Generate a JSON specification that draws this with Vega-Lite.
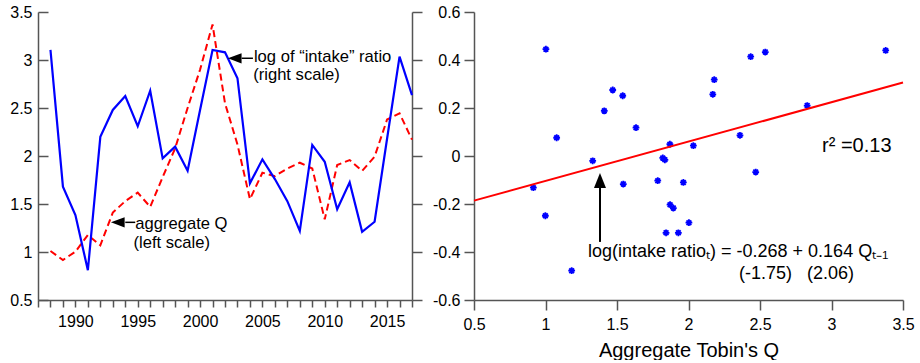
{
  "$schema": "https://vega.github.io/schema/vega-lite/v6.json",
  "padding": {"left": 9, "top": 4, "right": 5, "bottom": 0},
  "spacing": 62,
  "bounds": "flush",
  "config": {
    "view": {"stroke": null},
    "font": "Liberation Sans",
    "axis": {
      "domainColor": "#555555", "tickColor": "#555555", "domainWidth": 1.5, "tickWidth": 1.5,
      "labelColor": "#000000", "labelFont": "Liberation Sans", "labelFontSize": 16,
      "titleFont": "Liberation Sans", "titleFontWeight": "normal", "titleColor": "#000000",
      "grid": false, "labelFlush": false, "labelOverlap": false
    }
  },
  "datasets": {
    "ts": [
      {"year": 1988, "q": 1.01, "r": 0.442},
      {"year": 1989, "q": 0.917, "r": -0.128},
      {"year": 1990, "q": 1.003, "r": -0.246},
      {"year": 1991, "q": 1.177, "r": -0.476},
      {"year": 1992, "q": 1.07, "r": 0.08},
      {"year": 1993, "q": 1.41, "r": 0.192},
      {"year": 1994, "q": 1.53, "r": 0.25},
      {"year": 1995, "q": 1.618, "r": 0.124},
      {"year": 1996, "q": 1.47, "r": 0.272},
      {"year": 1997, "q": 1.78, "r": -0.01},
      {"year": 1998, "q": 2.08, "r": 0.039},
      {"year": 1999, "q": 2.5, "r": -0.061},
      {"year": 2000, "q": 2.9, "r": 0.192},
      {"year": 2001, "q": 3.37, "r": 0.442},
      {"year": 2002, "q": 2.55, "r": 0.432},
      {"year": 2003, "q": 2.12, "r": 0.324},
      {"year": 2004, "q": 1.55, "r": -0.114},
      {"year": 2005, "q": 1.826, "r": -0.014},
      {"year": 2006, "q": 1.79, "r": -0.096},
      {"year": 2007, "q": 1.87, "r": -0.188},
      {"year": 2008, "q": 1.93, "r": -0.312},
      {"year": 2009, "q": 1.87, "r": 0.046},
      {"year": 2010, "q": 1.34, "r": -0.024},
      {"year": 2011, "q": 1.906, "r": -0.222},
      {"year": 2012, "q": 1.958, "r": -0.11},
      {"year": 2013, "q": 1.844, "r": -0.316},
      {"year": 2014, "q": 1.993, "r": -0.274},
      {"year": 2015, "q": 2.38, "r": 0.072},
      {"year": 2016, "q": 2.445, "r": 0.414},
      {"year": 2017, "q": 2.17, "r": 0.254}
    ],
    "scatter": [
      {"q": 1.003, "v": 0.445}, {"q": 1.078, "v": 0.076}, {"q": 1.33, "v": -0.02},
      {"q": 1.411, "v": 0.188}, {"q": 1.47, "v": 0.275}, {"q": 1.54, "v": 0.251},
      {"q": 1.633, "v": 0.118}, {"q": 1.82, "v": -0.008}, {"q": 1.835, "v": -0.016},
      {"q": 1.87, "v": 0.049}, {"q": 2.034, "v": 0.043}, {"q": 2.17, "v": 0.257},
      {"q": 2.18, "v": 0.318}, {"q": 2.36, "v": 0.086}, {"q": 2.435, "v": 0.414},
      {"q": 2.537, "v": 0.433}, {"q": 2.83, "v": 0.21}, {"q": 3.379, "v": 0.44},
      {"q": 2.47, "v": -0.067}, {"q": 0.915, "v": -0.132}, {"q": 0.999, "v": -0.249},
      {"q": 1.183, "v": -0.478}, {"q": 1.544, "v": -0.117}, {"q": 1.785, "v": -0.103},
      {"q": 1.871, "v": -0.203}, {"q": 1.894, "v": -0.217}, {"q": 1.843, "v": -0.32},
      {"q": 1.929, "v": -0.32}, {"q": 1.964, "v": -0.11}, {"q": 2.003, "v": -0.278}
    ],
    "fit": [{"q": 0.5, "v": -0.186}, {"q": 3.5, "v": 0.306}]
  },
  "hconcat": [
    {
      "width": 374,
      "height": 288,
      "resolve": {"scale": {"y": "independent"}},
      "encoding": {
        "x": {"field": "year", "type": "quantitative",
          "scale": {"domain": [1987, 2017], "nice": false, "zero": false},
          "axis": {"values": [1987,1988,1989,1990,1991,1992,1993,1994,1995,1996,1997,1998,1999,2000,2001,2002,2003,2004,2005,2006,2007,2008,2009,2010,2011,2012,2013,2014,2015,2016,2017],
            "labelExpr": "datum.value % 5 === 0 ? '' + datum.value : ''",
            "tickSize": 7, "labelPadding": 6, "title": null}}
      },
      "layer": [
        {
          "data": {"name": "ts"},
          "mark": {"type": "line", "color": "#ff0000", "strokeWidth": 2, "strokeDash": [7, 4]},
          "encoding": {
            "y": {"field": "q", "type": "quantitative",
              "scale": {"domain": [0.5, 3.5], "nice": false, "zero": false},
              "axis": {"orient": "left", "values": [0.5, 1, 1.5, 2, 2.5, 3, 3.5],
                "labelExpr": "'' + datum.value", "tickSize": -10, "labelPadding": 16, "title": null}}
          }
        },
        {
          "data": {"name": "ts"},
          "mark": {"type": "line", "color": "#0000ff", "strokeWidth": 2.2},
          "encoding": {
            "y": {"field": "r", "type": "quantitative",
              "scale": {"domain": [-0.6, 0.6], "nice": false, "zero": false},
              "axis": {"orient": "right", "values": [-0.6, -0.4, -0.2, 0, 0.2, 0.4, 0.6],
                "labels": false, "tickSize": 10, "title": null}}
          }
        },
        {
          "data": {"values": [
            {"year": 2003.34, "year2": 2004.24, "y": 3.018},
            {"year": 1994.0, "year2": 1994.8, "y": 1.309}
          ]},
          "mark": {"type": "rule", "color": "#000000", "strokeWidth": 1.5},
          "encoding": {
            "x2": {"field": "year2"},
            "y": {"field": "y", "type": "quantitative", "scale": {"domain": [0.5, 3.5], "nice": false, "zero": false}, "axis": null}
          }
        },
        {
          "data": {"values": [
            {"year": 2002.78, "y": 3.018},
            {"year": 1993.4, "y": 1.309}
          ]},
          "mark": {"type": "point", "shape": "M-1,0L1,-0.75L1,0.75Z", "size": 188, "filled": true, "color": "#000000", "opacity": 1},
          "encoding": {
            "y": {"field": "y", "type": "quantitative", "scale": {"domain": [0.5, 3.5], "nice": false, "zero": false}, "axis": null}
          }
        },
        {
          "data": {"values": [
            {"year": 2004.32, "y": 2.974, "label": "log of “intake” ratio"},
            {"year": 2004.26, "y": 2.792, "label": "(right scale)"},
            {"year": 1994.8, "y": 1.236, "label": "aggregate Q"},
            {"year": 1994.66, "y": 1.045, "label": "(left scale)"}
          ]},
          "mark": {"type": "text", "align": "left", "baseline": "alphabetic", "fontSize": 16.6, "color": "#000000", "font": "Liberation Sans"},
          "encoding": {
            "y": {"field": "y", "type": "quantitative", "scale": {"domain": [0.5, 3.5], "nice": false, "zero": false}, "axis": null},
            "text": {"field": "label"}
          }
        }
      ]
    },
    {
      "width": 429,
      "height": 288,
      "layer": [
        {
          "data": {"name": "scatter"},
          "mark": {"type": "point", "shape": "M-1,0L1,0M0,-1L0,1M-0.7,-0.7L0.7,0.7M-0.7,0.7L0.7,-0.7", "size": 46, "filled": false, "color": "#0000ff", "strokeWidth": 1.8, "opacity": 1},
          "encoding": {
            "x": {"field": "q", "type": "quantitative",
              "scale": {"domain": [0.5, 3.5], "nice": false, "zero": false},
              "axis": {"values": [0.5, 1, 1.5, 2, 2.5, 3, 3.5], "labelExpr": "'' + datum.value",
                "tickSize": 10, "labelPadding": 6, "title": "Aggregate Tobin's Q", "titleFontSize": 20, "titlePadding": 8}},
            "y": {"field": "v", "type": "quantitative",
              "scale": {"domain": [-0.6, 0.6], "nice": false, "zero": false},
              "axis": {"values": [-0.6, -0.4, -0.2, 0, 0.2, 0.4, 0.6], "labelExpr": "'' + datum.value",
                "tickSize": 10, "labelPadding": 4, "title": null}}
          }
        },
        {
          "data": {"name": "fit"},
          "mark": {"type": "line", "color": "#ff0000", "strokeWidth": 2},
          "encoding": {
            "x": {"field": "q", "type": "quantitative"},
            "y": {"field": "v", "type": "quantitative"}
          }
        },
        {
          "data": {"values": [{"q": 1.381, "v1": -0.358, "v2": -0.129}]},
          "mark": {"type": "rule", "color": "#000000", "strokeWidth": 2},
          "encoding": {
            "x": {"field": "q", "type": "quantitative"},
            "y": {"field": "v1", "type": "quantitative"},
            "y2": {"field": "v2"}
          }
        },
        {
          "data": {"values": [{"q": 1.381, "v": -0.102}]},
          "mark": {"type": "point", "shape": "M0,-1L-0.8,1L0.8,1Z", "size": 225, "filled": true, "color": "#000000", "opacity": 1},
          "encoding": {
            "x": {"field": "q", "type": "quantitative"},
            "y": {"field": "v", "type": "quantitative"}
          }
        },
        {
          "data": {"values": [
            {"q": 2.934, "v": 0.017, "label": "r² =0.13", "sz": "big"},
            {"q": 1.297, "v": -0.421, "label": "log(intake ratioₜ) = -0.268 + 0.164 Qₜ₋₁", "sz": "eq"},
            {"q": 2.353, "v": -0.5125, "label": "(-1.75)\u00a0\u00a0\u00a0(2.06)", "sz": "eq"}
          ]},
          "mark": {"type": "text", "align": "left", "baseline": "alphabetic", "color": "#000000", "font": "Liberation Sans"},
          "encoding": {
            "x": {"field": "q", "type": "quantitative"},
            "y": {"field": "v", "type": "quantitative"},
            "text": {"field": "label"},
            "size": {"field": "sz", "type": "nominal", "scale": {"domain": ["big", "eq"], "range": [20, 18]}, "legend": null}
          }
        }
      ]
    }
  ]
}
